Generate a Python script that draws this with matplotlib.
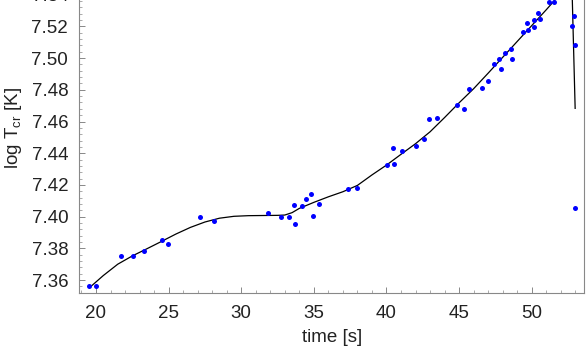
import matplotlib
matplotlib.use('Agg')
import matplotlib.pyplot as plt
from matplotlib.ticker import MultipleLocator

# measured points (time [s], log T_cr [K])
t_obs = [19.50, 20.02, 21.72, 22.55, 23.33, 24.57, 24.96, 27.14, 28.15,
         31.85, 32.74, 33.27, 33.66, 33.73, 34.19, 34.44, 34.83, 34.94,
         35.36, 37.36, 37.95, 40.06, 40.55, 40.48, 41.07, 42.04, 42.57,
         42.96, 43.46, 44.88, 45.34, 45.67, 46.56, 46.98, 47.39, 47.75,
         47.87, 48.19, 48.58, 48.67, 49.39, 49.68, 49.77, 50.17, 50.19,
         50.46, 50.60, 51.18, 51.56, 52.76, 52.90, 52.99, 52.99]
logT_obs = [7.3564, 7.3560, 7.3750, 7.3751, 7.3785, 7.3854, 7.3829, 7.3995,
            7.3974, 7.4025, 7.4000, 7.3995, 7.4075, 7.3951, 7.4067, 7.4109,
            7.4141, 7.4006, 7.4081, 7.4172, 7.4182, 7.4327, 7.4332, 7.4433,
            7.4414, 7.4443, 7.4490, 7.4614, 7.4624, 7.4702, 7.4677, 7.4807,
            7.4813, 7.4856, 7.4963, 7.4994, 7.4929, 7.5030, 7.5059, 7.4996,
            7.5163, 7.5221, 7.5179, 7.5238, 7.5196, 7.5287, 7.5249, 7.5356,
            7.5356, 7.5204, 7.5266, 7.5083, 7.4052]

# fitted curve
t_fit = [19.63, 20.5, 21.5, 22.5, 23.5, 24.5, 25.5, 26.5, 27.5, 28.5, 29.5,
         30.5, 31.5, 32.5, 33.0, 33.5, 34.0, 35.0, 36.0, 37.0, 38.0, 39.0,
         40.0, 41.0, 42.0, 43.0, 44.0, 45.0, 46.0, 47.0, 48.0, 49.0, 50.0,
         51.0, 51.6, 52.2, 52.7, 52.99]
logT_fit = [7.3558, 7.3628, 7.3700, 7.3752, 7.3797, 7.3843, 7.3890, 7.3932,
            7.3966, 7.3990, 7.4002, 7.4006, 7.4007, 7.4008, 7.4010, 7.4025,
            7.4052, 7.4090, 7.4125, 7.4157, 7.4197, 7.4263, 7.4325, 7.4393,
            7.4460, 7.4535, 7.4625, 7.4718, 7.4807, 7.4905, 7.5005, 7.5105,
            7.5205, 7.5305, 7.5367, 7.5650, 7.5700, 7.4683]

plt.rcParams['font.family'] = ['Liberation Sans', 'DejaVu Sans']
plt.rcParams['mathtext.default'] = 'regular'
plt.rcParams['font.size'] = 13.5

fig = plt.figure(figsize=(5.86, 3.49), dpi=100)
ax = fig.add_axes([0.1353, 0.1613, 0.8613, 0.9447])

ax.plot(t_fit, logT_fit, color='black', lw=0.9, zorder=2)
ax.plot(t_obs, logT_obs, 'o', color='#0000ff', ms=3.6, mew=0, zorder=3)

ax.set_xlim(18.85, 53.6)
ax.set_ylim(7.352, 7.56)
ax.xaxis.set_major_locator(MultipleLocator(5))
ax.xaxis.set_minor_locator(MultipleLocator(1))
ax.yaxis.set_major_locator(MultipleLocator(0.02))
ax.yaxis.set_minor_locator(MultipleLocator(0.004))
ax.yaxis.set_major_formatter(plt.FormatStrFormatter('%.2f'))

for s in ax.spines.values():
    s.set_color('#888888')
    s.set_linewidth(0.8)
ax.tick_params(which='both', direction='in', color='#888888', labelcolor='#222222')
ax.tick_params(which='major', length=4, width=0.7)
ax.tick_params(axis='x', which='major', pad=9)
ax.tick_params(axis='y', which='major', pad=8)
ax.tick_params(which='minor', length=2, width=0.5)

ax.set_xlabel('time [s]', labelpad=5, color='#222222')
ax.set_ylabel('log T$_{cr}$ [K]', labelpad=5, color='#222222')

fig.savefig('out.png', dpi=100)
